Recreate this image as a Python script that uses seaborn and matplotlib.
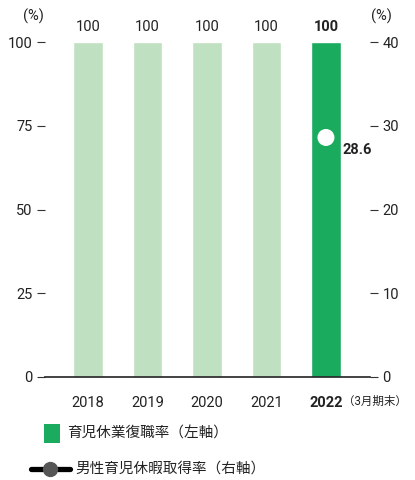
import matplotlib
matplotlib.use("Agg")
import matplotlib.pyplot as plt
import seaborn as sns
import pandas as pd
from matplotlib.patches import Rectangle
from matplotlib.lines import Line2D

years = ["2018", "2019", "2020", "2021", "2022"]
return_rate = [100, 100, 100, 100, 100]
male_leave_years = ["2022"]
male_leave_rate = [28.6]
left_ticks = [0, 25, 50, 75, 100]
right_ticks = [0, 10, 20, 30, 40]
legend_labels = ["育児休業復職率（左軸）", "男性育児休暇取得率（右軸）"]

LIGHT = "#bfe0c1"
DARK = "#1aab5e"
TXT = "#222222"

sns.set_theme(style="white")
plt.rcParams['font.family'] = ['Roboto', 'Noto Sans CJK JP', 'DejaVu Sans']

W, H = 415, 480
fig = plt.figure(figsize=(W/100, H/100), dpi=100)
ax = fig.add_axes([45/W, 1-377/H, 325/W, 335/H])

df = pd.DataFrame({"year": years, "rate": return_rate})
palette = [LIGHT]*(len(years)-1) + [DARK]
sns.barplot(data=df, x="year", y="rate", hue="year", palette=palette, legend=False,
            width=0.5, ax=ax, saturation=1)
ax.set_xlim(-0.72, 4.74)
ax.set_ylim(0, 100)
ax.set_yticks(left_ticks)
ax.set_xlabel("")
ax.set_ylabel("")
for s in ["top", "right", "left"]:
    ax.spines[s].set_visible(False)
ax.spines["bottom"].set_color("#222222")
ax.spines["bottom"].set_linewidth(1.2)
ax.tick_params(axis="y", left=True, length=6, width=0.8, color="#333333", labelsize=10.5, labelcolor=TXT, pad=3)
ax.tick_params(axis="x", bottom=False, labelsize=10.5, labelcolor=TXT, pad=8)
for i, lab in enumerate(ax.get_xticklabels()):
    if i == len(years) - 1:
        lab.set_fontweight("bold")

for i, v in enumerate(return_rate):
    ax.text(i, v + 2.5, f"{v}", ha="center", va="bottom", fontsize=10.5, color=TXT,
            fontweight="bold" if i == len(years)-1 else "normal")

ax2 = ax.twinx()
ax2.set_ylim(0, 40)
ax2.set_yticks(right_ticks)
for s in ["top", "right", "left", "bottom"]:
    ax2.spines[s].set_visible(False)
ax2.tick_params(axis="y", right=True, length=6, width=0.8, color="#333333", labelsize=10.5, labelcolor=TXT, pad=3)
xpos = [years.index(y) for y in male_leave_years]
sns.scatterplot(x=xpos, y=male_leave_rate, ax=ax2, s=150, color="white", edgecolor="none", zorder=5)
for x, v in zip(xpos, male_leave_rate):
    ax2.text(x + 0.28, v - 1.5, f"{v}", ha="left", va="center", fontsize=10.5,
             fontweight="bold", color=TXT)

fig.text(33/W, 1-16/H, "(%)", ha="center", va="center", fontsize=10.5, color=TXT)
fig.text(381/W, 1-16/H, "(%)", ha="center", va="center", fontsize=10.5, color=TXT)
fig.text(343/W, 1-401/H, "（3月期末）", ha="left", va="center", fontsize=8.3, color=TXT)

# legend (manual)
fig.add_artist(Rectangle((44/W, 1-443/H), 16/W, 19/H, transform=fig.transFigure,
                         facecolor=DARK, edgecolor="none"))
fig.text(67/W, 1-434/H, legend_labels[0], ha="left", va="center", fontsize=10.5, color=TXT)
fig.add_artist(Line2D([31/W, 70/W], [1-469/H, 1-469/H], transform=fig.transFigure,
                      color="black", lw=3.8, solid_capstyle="round"))
fig.add_artist(Line2D([50/W], [1-469/H], transform=fig.transFigure, marker="o",
                      markersize=10, markerfacecolor="#555555", markeredgecolor="#555555",
                      linestyle="none"))
fig.text(75/W, 1-469/H, legend_labels[1], ha="left", va="center", fontsize=10.5, color=TXT)

fig.savefig("out.png", dpi=100)
